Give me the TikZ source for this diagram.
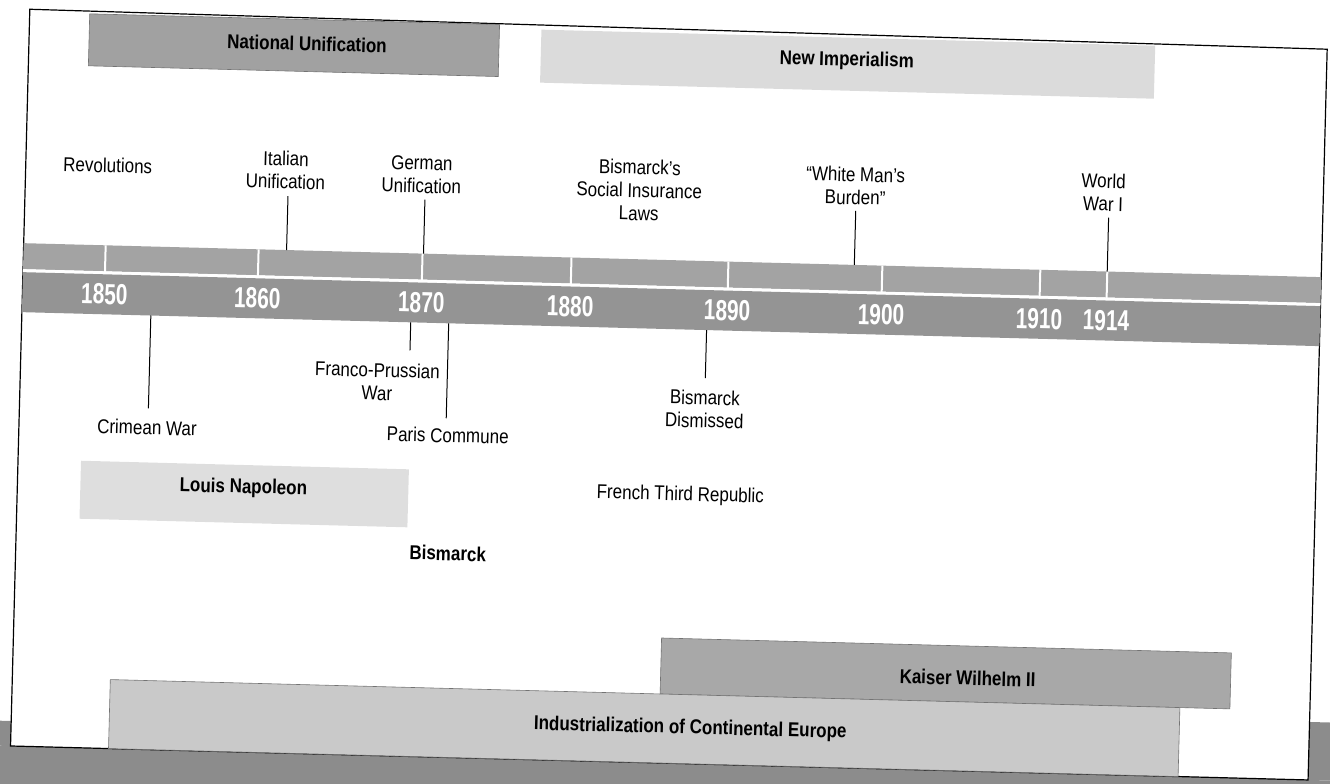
\documentclass[tikz,border=0pt]{standalone}
\usepackage{fontspec}
\setmainfont{Liberation Sans}[FakeStretch=0.85]
\newfontfamily\yearfont{Liberation Sans}[FakeStretch=0.72]
\usepackage{xcolor}
\usepackage{tikz}

\definecolor{unifgray}{gray}{0.63}
\definecolor{imperialgray}{gray}{0.86}
\definecolor{bandupper}{gray}{0.64}
\definecolor{bandlower}{gray}{0.58}
\definecolor{napoleongray}{gray}{0.87}
\definecolor{kaisergray}{gray}{0.66}
\definecolor{industrygray}{gray}{0.79}
\definecolor{scangray}{gray}{0.55}

\tikzset{
    bar/.style={draw=black!55, line width=0.6pt},
    barlabel/.style={font=\bfseries\fontsize{20}{23}\selectfont, inner sep=1pt},
    event/.style={font=\fontsize{20}{23}\selectfont, align=center, inner sep=1pt},
    yearlabel/.style={font=\yearfont\bfseries\fontsize{29}{30}\selectfont, text=white, inner sep=0pt},
    eventline/.style={line width=1pt},
}

\begin{document}
\begin{tikzpicture}[x=1pt, y=-1pt]

        \useasboundingbox (0,0) rectangle (1330,784);
        \clip (0,0) rectangle (1330,784);

        \begin{scope}[rotate around={-1.5:(665,392)}, transform shape]

        % Scanner background
        \fill[scangray] (-80,763) rectangle (1420,900);
        \fill[scangray] (1318,705) rectangle (1420,763);
        \fill[scangray] (-80,738) rectangle (20,763);

        % Page frame
        \draw[line width=1.2pt] (20,26) -- (1318,32) -- (1318,763) -- (20,763) -- cycle;

        % Eras
        \draw[bar, fill=unifgray] (80,29) rectangle (490,81);
        \node[barlabel] (natunif) at (298,53) {National Unification};

        \fill[imperialgray] (532,33) rectangle (1146,86);
        \node[barlabel] (newimp) at (838,56) {New Imperialism};

        % Time band
        \fill[bandupper] (20,260) rectangle (1318,286);
        \fill[white] (20,286) rectangle (1318,289);
        \fill[bandlower] (20,289) rectangle (1318,329);

        % Year ticks
        \foreach \year/\x in {1850/102,1860/255,1870/419,1880/568,1890/725,1900/879,1910/1037,1914/1104}{
            \draw[white, line width=2pt] (\x,260) -- (\x,287);
            \node[yearlabel] (y\year) at (\x,309) {\year};
        }

        % Events above the band
        \node[event] (revol) at (102,180) {Revolutions};
        \node[event] (italy) at (280,180) {Italian\\Unification};
        \node[event] (germany) at (416,181) {German\\Unification};
        \node[event] (insurance) at (634,191) {Bismarck's\\Social Insurance\\Laws};
        \node[event] (burden) at (850,181) {``White Man's\\Burden''};
        \node[event] (wwone) at (1098,181) {World\\War I};

        \foreach \name/\x in {italy/283,germany/420,burden/851,wwone/1104}{
            \coordinate (\name-top) at (\x,206);
            \coordinate (\name-band) at (\x,260);
            \draw[eventline] (\name-top) -- (\name-band);
        }

        % Events below the band
        \node[event] (crimea) at (148,441) {Crimean War};
        \node[event] (franco) at (377,389) {Franco-Prussian\\War};
        \node[event] (paris) at (449,441) {Paris Commune};
        \node[event] (dismissed) at (705,408) {Bismarck\\Dismissed};

        \foreach \name/\x/\y in {crimea/149/422,franco/409/357,paris/447/424,dismissed/705/377}{
            \coordinate (\name-band) at (\x,329);
            \coordinate (\name-end) at (\x,\y);
            \draw[eventline] (\name-band) -- (\name-end);
        }

        % Rulers
        \fill[napoleongray] (83,476) rectangle (411,534);
        \node[barlabel] (napoleon) at (246,499) {Louis Napoleon};
        \node[event] (thirdrep) at (683,495) {French Third Republic};
        \node[barlabel] (bismarck) at (452,559) {Bismarck};

        \draw[bar, fill=kaisergray] (668,638) rectangle (1238,694);
        \node[barlabel] (kaiser) at (975,670) {Kaiser Wilhelm II};

        \draw[bar, fill=industrygray] (118,694) rectangle (1188,763);
        \node[barlabel] (industry) at (699,728) {Industrialization of Continental Europe};

        \end{scope}

\end{tikzpicture}
\end{document}
